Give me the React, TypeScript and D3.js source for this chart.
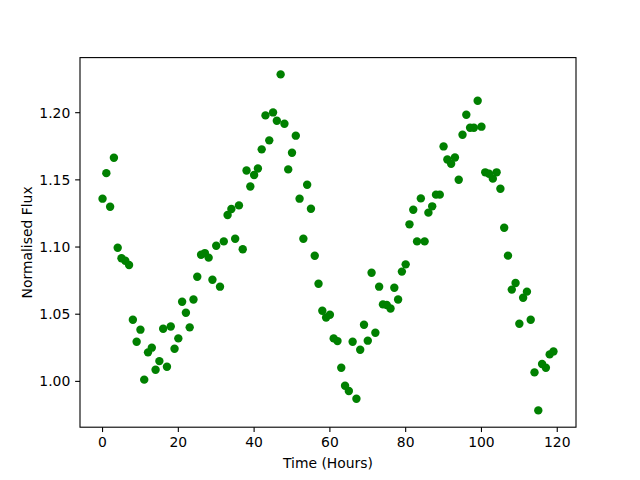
import React from "react";
import * as d3 from "d3";

const hours: number[] = Array.from({ length: 120 }, (_, i) => i);
const flux: number[] = [
  1.136, 1.155, 1.130, 1.1665, 1.0995, 1.0916, 1.0898, 1.0866, 1.0459, 1.0295,
  1.0385, 1.0013, 1.0216, 1.0251, 1.0087, 1.0151, 1.0392, 1.0109, 1.0409, 1.0243,
  1.032, 1.0593, 1.0511, 1.0402, 1.061, 1.0779, 1.0943, 1.0955, 1.0921, 1.0757,
  1.101, 1.0705, 1.1042, 1.1238, 1.1283, 1.1062, 1.131, 1.0983, 1.157, 1.1451,
  1.1536, 1.1585, 1.1727, 1.198, 1.1794, 1.2002, 1.194, 1.2285, 1.1918, 1.1578,
  1.1702, 1.1829, 1.136, 1.1062, 1.1464, 1.1285, 1.0935, 1.0727, 1.0526, 1.0476,
  1.0496, 1.032, 1.030, 1.0102, 0.9968, 0.9928, 1.0295, 0.9871, 1.0236, 1.0422,
  1.0303, 1.0809, 1.0362, 1.0705, 1.0573, 1.0568, 1.0543, 1.0697, 1.061, 1.0817,
  1.0871, 1.1169, 1.1278, 1.1042, 1.1362, 1.1042, 1.1256, 1.1303, 1.139, 1.139,
  1.1749, 1.1652, 1.162, 1.1667, 1.1501, 1.1836, 1.1985, 1.1888, 1.1888, 1.2089,
  1.1896, 1.1556, 1.1546, 1.1509, 1.1556, 1.1434, 1.1144, 1.0936, 1.0683, 1.0732,
  1.0429, 1.0623, 1.0668, 1.0459, 1.0067, 0.9784, 1.0129, 1.0102, 1.0201, 1.0223,
];
const xTicks: number[] = [0, 20, 40, 60, 80, 100, 120];
const yTicks: number[] = [1.0, 1.05, 1.1, 1.15, 1.2];
const xLabel = "Time (Hours)";
const yLabel = "Normalised Flux";

export default function App() {
  const W = 640, H = 480;
  const left = 80, right = 576, top = 57.6, bottom = 427.2;
  const [x0, x1] = d3.extent(hours) as [number, number];
  const [y0, y1] = d3.extent(flux) as [number, number];
  const mx = (x1 - x0) * 0.05, my = (y1 - y0) * 0.05;
  const x = d3.scaleLinear().domain([x0 - mx, x1 + mx]).range([left, right]);
  const y = d3.scaleLinear().domain([y0 - my, y1 + my]).range([bottom, top]);
  const fmt = d3.format(".2f");
  const font = "'DejaVu Sans', sans-serif";
  const fs = 13.9;
  const tickLen = 4.86;
  const pad = 4.86;

  return (
    <svg width={W} height={H} style={{ position: "absolute", left: 0, top: 0, background: "#fff" }}>
      <rect x={0} y={0} width={W} height={H} fill="#fff" />
      {hours.map((h, i) => (
        <circle key={i} cx={x(h)} cy={y(flux[i])} r={4.2} fill="#008000" />
      ))}
      <rect x={left} y={top} width={right - left} height={bottom - top} fill="none" stroke="#000" strokeWidth={1.1} />
      {xTicks.map((t) => (
        <g key={"x" + t}>
          <line x1={x(t)} x2={x(t)} y1={bottom} y2={bottom + tickLen} stroke="#000" strokeWidth={1.1} />
          <text x={x(t)} y={bottom + tickLen + pad + 10.5} textAnchor="middle" fontFamily={font} fontSize={fs} fill="#000">
            {t}
          </text>
        </g>
      ))}
      {yTicks.map((t) => (
        <g key={"y" + t}>
          <line x1={left - tickLen} x2={left} y1={y(t)} y2={y(t)} stroke="#000" strokeWidth={1.1} />
          <text x={left - tickLen - pad} y={y(t)} dy="0.36em" textAnchor="end" fontFamily={font} fontSize={fs} fill="#000">
            {fmt(t)}
          </text>
        </g>
      ))}
      <text x={(left + right) / 2} y={468} textAnchor="middle" fontFamily={font} fontSize={fs} fill="#000">
        {xLabel}
      </text>
      <text
        transform={`translate(32,${(top + bottom) / 2}) rotate(-90)`}
        textAnchor="middle"
        fontFamily={font}
        fontSize={fs}
        fill="#000"
      >
        {yLabel}
      </text>
    </svg>
  );
}
